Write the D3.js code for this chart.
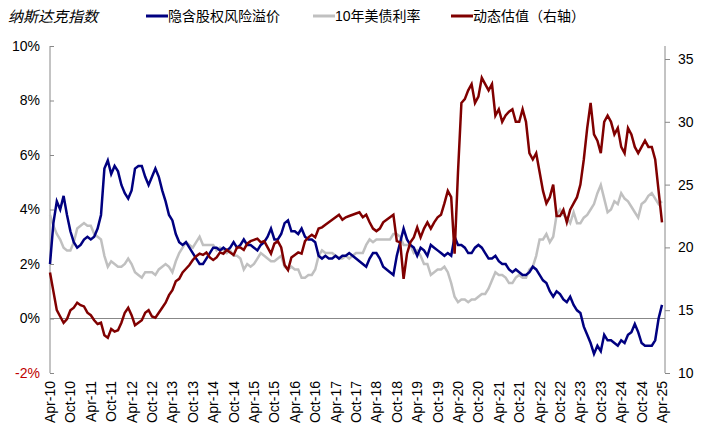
<!DOCTYPE html><html><head><meta charset="utf-8"><script src="https://cdn.jsdelivr.net/npm/d3@7"></script>
<style>body{margin:0;background:#fff}text{font-family:Arial,"Liberation Sans","Noto Sans CJK SC",sans-serif}</style></head><body><svg id="c" width="711" height="437"></svg><script>
const tickLabels=[];for(let y=10;y<=25;y++){tickLabels.push("Apr-"+y);if(y<25)tickLabels.push("Oct-"+y);}
const erp=[2.0,3.5,4.3,4.0,4.5,3.8,3.2,2.8,2.6,2.7,2.9,3.0,2.9,3.0,3.3,3.8,5.5,5.8,5.3,5.6,5.4,4.9,4.6,4.4,4.7,5.5,5.6,5.6,5.2,4.9,5.2,5.5,5.2,4.7,4.3,3.8,3.6,3.1,2.8,2.7,2.8,2.6,2.4,2.2,2.0,2.0,2.2,2.4,2.6,2.6,2.5,2.6,2.5,2.6,2.8,2.6,2.7,2.9,2.7,2.7,2.6,2.5,2.7,2.8,3.0,3.3,2.9,2.9,3.1,3.5,3.6,3.2,3.2,3.1,3.3,3.0,2.9,2.9,2.8,2.3,2.2,2.3,2.2,2.2,2.3,2.2,2.3,2.3,2.4,2.3,2.2,2.1,2.0,1.9,2.2,2.4,2.4,2.2,1.9,1.8,1.7,1.6,2.3,2.8,3.3,2.9,2.7,2.6,2.3,2.6,2.5,2.3,2.7,2.6,2.5,2.4,2.3,2.4,2.3,3.0,2.7,2.7,2.6,2.4,2.4,2.6,2.7,2.6,2.4,2.2,2.2,2.3,2.1,2.0,2.0,1.8,1.7,1.8,1.7,1.6,1.6,1.7,1.9,1.8,1.6,1.4,1.3,1.0,0.8,1.0,0.9,0.7,0.6,0.8,0.5,0.3,0.2,-0.3,-0.6,-0.9,-1.3,-1.0,-1.2,-0.6,-0.8,-0.8,-0.9,-1.0,-0.8,-0.9,-0.6,-0.5,-0.2,-0.5,-0.9,-1.0,-1.0,-1.0,-0.8,0.0,0.5];
const yld=[3.8,3.4,3.1,2.9,2.6,2.5,2.5,2.8,3.3,3.4,3.5,3.4,3.4,3.1,3.0,2.9,2.3,1.9,2.1,2.0,1.9,1.9,2.0,2.2,2.0,1.7,1.6,1.5,1.7,1.7,1.7,1.6,1.8,1.9,2.0,1.9,1.7,2.1,2.4,2.6,2.8,2.7,2.6,2.8,3.0,2.7,2.7,2.7,2.7,2.5,2.6,2.5,2.4,2.5,2.3,2.3,2.2,1.8,2.0,1.9,2.0,2.2,2.4,2.3,2.2,2.1,2.1,2.2,2.3,1.9,1.8,1.9,1.8,1.8,1.5,1.5,1.6,1.6,1.8,2.3,2.5,2.4,2.4,2.4,2.3,2.2,2.2,2.3,2.2,2.3,2.4,2.4,2.4,2.7,2.9,2.8,2.9,2.9,2.9,2.9,2.9,3.1,3.1,3.0,2.7,2.7,2.7,2.4,2.5,2.3,2.0,2.0,1.6,1.7,1.8,1.8,1.9,1.7,1.3,0.8,0.6,0.7,0.7,0.6,0.7,0.7,0.8,0.9,0.9,1.1,1.4,1.7,1.6,1.6,1.5,1.3,1.3,1.5,1.6,1.5,1.5,1.8,1.9,2.3,2.9,2.9,3.1,2.8,3.0,3.8,4.0,3.8,3.7,3.5,3.9,3.5,3.5,3.7,3.8,4.0,4.2,4.6,4.9,4.4,3.9,4.0,4.3,4.2,4.6,4.4,4.3,4.1,3.9,3.7,4.2,4.3,4.5,4.6,4.4,4.2,4.3];
const pe=[18.0,16.5,15.0,14.5,14.0,14.3,15.0,15.2,15.6,15.4,15.3,14.8,14.6,14.2,13.9,14.0,13.0,12.8,13.5,13.3,13.4,14.0,14.8,15.2,14.6,13.8,14.0,14.2,14.8,15.0,14.5,14.4,14.8,15.2,15.6,16.2,16.6,17.3,17.5,18.0,18.3,18.6,19.0,19.3,19.5,19.4,19.6,19.2,19.0,19.2,19.6,19.5,19.8,19.6,19.4,20.0,20.0,19.8,20.3,20.5,20.6,20.7,20.4,20.5,20.0,19.5,20.3,20.5,20.0,18.6,18.2,19.2,19.4,19.6,19.5,20.5,20.8,21.0,20.8,21.5,21.6,21.8,22.0,22.2,22.4,22.6,22.2,22.4,22.5,22.6,22.7,22.8,22.4,22.6,22.0,21.5,21.3,21.5,22.0,22.2,22.4,22.6,20.5,20.4,17.5,19.5,20.4,20.8,21.6,20.8,21.5,22.0,21.5,22.0,22.4,22.6,23.5,24.5,24.0,19.5,26.0,31.5,31.8,32.5,33.0,31.5,32.0,33.5,33.0,32.5,33.0,30.5,31.0,30.0,30.5,30.8,31.0,30.0,30.0,31.0,30.0,27.5,27.0,27.5,26.0,24.5,23.5,24.0,25.0,22.5,22.5,23.0,22.0,23.0,23.5,24.0,25.0,27.0,29.5,31.5,29.0,28.5,27.5,30.0,30.5,30.0,29.0,29.5,28.0,27.5,29.5,29.0,28.0,27.5,28.0,28.5,28.0,28.0,27.0,24.5,22.0];
const svg=d3.select("#c");
const L=50,R=665,T=46,B=373;
const x=d3.scaleLinear().domain([0,180]).range([L,662]);
const yL=d3.scaleLinear().domain([-2,10]).range([B,T]);
const yR=d3.scaleLinear().domain([10,35]).range([B,59]);
const ax="#888";
const gl=svg.append("g").attr("transform",`translate(${L},0)`).call(d3.axisLeft(yL).tickValues([-2,0,2,4,6,8,10]).tickSize(-4).tickPadding(10).tickFormat(d=>d+"%"));
gl.select(".domain").attr("stroke",ax).attr("d",`M0,${T}V${B}`);gl.selectAll("line").attr("stroke",ax);
gl.selectAll("text").attr("font-size",14).attr("fill",d=>d<0?"#c00000":"#000");
const gr=svg.append("g").attr("transform",`translate(${R},0)`).call(d3.axisRight(yR).tickValues([10,15,20,25,30,35]).tickSize(5).tickPadding(8));
gr.select(".domain").attr("stroke",ax).attr("d",`M0,${T}V${B}`);gr.selectAll("line").attr("stroke",ax);
gr.selectAll("text").attr("font-size",14).attr("fill","#000");
svg.append("line").attr("x1",L).attr("x2",R).attr("y1",yL(0)).attr("y2",yL(0)).attr("stroke",ax);
const xb=d3.scaleLinear().domain([0,tickLabels.length-1]).range([x(0),x(180)]);
svg.append("g").selectAll("text").data(tickLabels).join("text").attr("transform",(d,i)=>`translate(${xb(i)+5},${B+8}) rotate(-90)`).attr("text-anchor","end").attr("font-size",14).text(d=>d);
const ln=ys=>d3.line().x((d,i)=>x(i)).y(d=>ys(d)).curve(d3.curveLinear);
svg.append("path").datum(yld).attr("d",ln(yL)).attr("fill","none").attr("stroke","#c0c0c0").attr("stroke-width",2.5);
svg.append("path").datum(erp).attr("d",ln(yL)).attr("fill","none").attr("stroke","#000080").attr("stroke-width",2.5);
svg.append("path").datum(pe).attr("d",ln(yR)).attr("fill","none").attr("stroke","#800000").attr("stroke-width",2.5);
svg.append("text").attr("x",8).attr("y",22).attr("font-size",15).attr("font-style","italic").text("纳斯达克指数");
const leg=[["隐含股权风险溢价","#000080",146],["10年美债利率","#c0c0c0",313],["动态估值（右轴）","#800000",451]];
leg.forEach(([t,c,lx])=>{svg.append("line").attr("x1",lx).attr("x2",lx+22).attr("y1",16).attr("y2",16).attr("stroke",c).attr("stroke-width",3);
svg.append("text").attr("x",lx+22).attr("y",21).attr("font-size",14).text(t);});
</script></body></html>
